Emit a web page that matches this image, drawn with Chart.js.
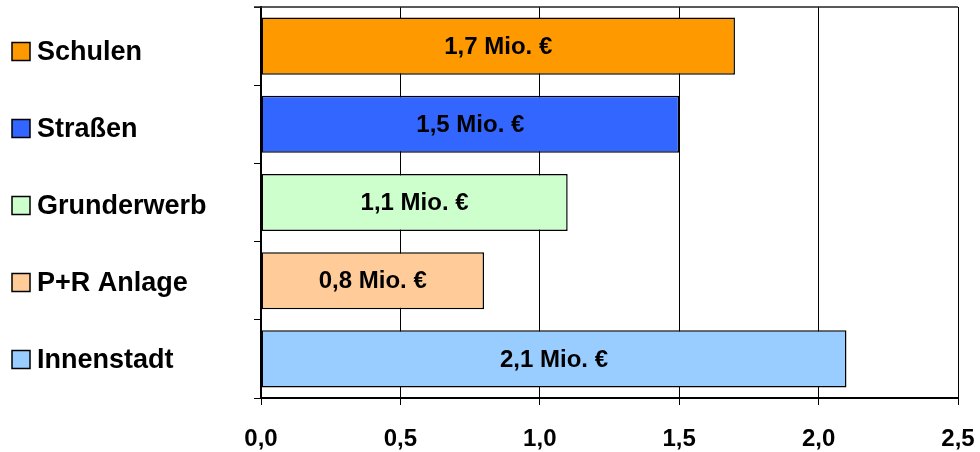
<!DOCTYPE html>
<html>
<head>
<meta charset="utf-8">
<script src="https://cdn.jsdelivr.net/npm/chart.js@4/dist/chart.umd.min.js"></script>
<style>
  body { margin: 0; background: #fff; }
  canvas { display: block; }
</style>
</head>
<body>
<canvas id="chart" width="980" height="452"></canvas>
<script>
const categories = ['Schulen', 'Straßen', 'Grunderwerb', 'P+R Anlage', 'Innenstadt'];
const values = [1.7, 1.5, 1.1, 0.8, 2.1]; // Mio. €
const barColors = ['#FF9900', '#3366FF', '#CCFFCC', '#FFCC99', '#99CCFF'];
const xTicks = [0, 0.5, 1.0, 1.5, 2.0, 2.5];

const FONT = "'Liberation Sans', Arial, sans-serif";
const fmt = (v) => v.toFixed(1).replace('.', ',');

// labels with coloured squares on the left, placed from the y scale
const sideLabels = {
  id: 'sideLabels',
  afterDraw(chart) {
    const ctx = chart.ctx;
    const y = chart.scales.y;
    ctx.save();
    categories.forEach((name, i) => {
      const cy = y.getPixelForValue(i) + 5.4 - i * 1.2;
      ctx.fillStyle = barColors[i];
      ctx.fillRect(12, cy - 9, 18, 18);
      ctx.strokeStyle = '#000';
      ctx.lineWidth = 1.5;
      ctx.strokeRect(12, cy - 9, 18, 18);
      ctx.fillStyle = '#000';
      ctx.font = 'bold 27px ' + FONT;
      ctx.textAlign = 'left';
      ctx.textBaseline = 'alphabetic';
      ctx.fillText(name, 37, cy + 8.5);
    });
    // top frame line
    const a = chart.chartArea;
    ctx.strokeStyle = '#222';
    ctx.lineWidth = 1.5;
    ctx.beginPath();
    ctx.moveTo(a.left - 7, a.top);
    ctx.lineTo(a.right, a.top);
    ctx.stroke();
    ctx.restore();
  }
};

// value labels inside the bars
const barLabels = {
  id: 'barLabels',
  afterDatasetsDraw(chart) {
    const ctx = chart.ctx;
    const meta = chart.getDatasetMeta(0);
    ctx.save();
    ctx.fillStyle = '#000';
    ctx.font = 'bold 24px ' + FONT;
    ctx.textAlign = 'center';
    ctx.textBaseline = 'middle';
    meta.data.forEach((bar, i) => {
      const cx = (bar.base + bar.x) / 2;
      ctx.fillText(fmt(values[i]) + ' Mio. €', cx, bar.y + 1);
    });
    ctx.restore();
  }
};

new Chart(document.getElementById('chart'), {
  type: 'bar',
  data: {
    labels: categories,
    datasets: [
      {
        data: values,
        backgroundColor: barColors,
        borderColor: '#000',
        borderWidth: 1.5,
        borderSkipped: false,
        categoryPercentage: 1.0,
        barPercentage: 0.73
      }
    ]
  },
  options: {
    indexAxis: 'y',
    responsive: false,
    animation: false,
    layout: {
      padding: { top: 7, right: 22, left: 0, bottom: 0 }
    },
    plugins: {
      legend: { display: false },
      tooltip: { enabled: false }
    },
    scales: {
      x: {
        min: 0,
        max: 2.5,
        afterBuildTicks: (scale) => {
          scale.ticks = xTicks.map((v) => ({ value: v }));
        },
        afterFit: (scale) => {
          scale.height = 54;
          scale.paddingRight = 0;
          scale.paddingLeft = 0;
        },
        grid: {
          color: '#000',
          lineWidth: 1,
          tickLength: 7
        },
        border: { color: '#000', width: 2 },
        ticks: {
          color: '#000',
          padding: 20,
          maxRotation: 0,
          font: { family: FONT, size: 24, weight: 'bold' },
          callback: (v) => fmt(v)
        }
      },
      y: {
        afterFit: (scale) => {
          scale.width = 261;
        },
        grid: {
          drawOnChartArea: false,
          color: '#000',
          tickLength: 7
        },
        border: { color: '#000', width: 2 },
        ticks: { display: false }
      }
    }
  },
  plugins: [sideLabels, barLabels]
});
</script>
</body>
</html>
